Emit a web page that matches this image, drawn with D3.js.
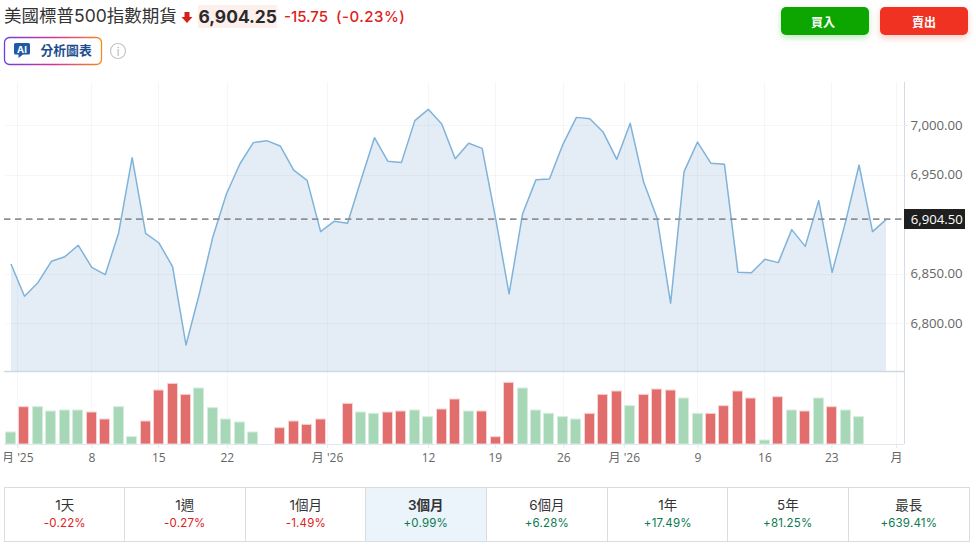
<!DOCTYPE html>
<html><head><meta charset="utf-8">
<script src="https://cdn.jsdelivr.net/npm/d3@7"></script>
<style>
html,body{margin:0;padding:0;background:#fff;overflow:hidden}
svg{display:block}
text{font-family:Inter,"Noto Sans CJK TC",sans-serif}
.ax text{font-family:"Open Sans","Noto Sans CJK TC",sans-serif;fill:#666}
</style></head><body>
<svg id="c" width="976" height="548"></svg>
<script>
const prices=[6859.6,6827,6840.7,6862.3,6867,6878.5,6856.2,6848.8,6891.2,6967,6890.6,6880.8,6856.9,6777.8,6830,6887.2,6930.3,6960.6,6982.2,6984.2,6978.8,6954.5,6944.1,6892.3,6902.7,6900.7,6944.4,6987.2,6963.3,6962,7004.4,7015.8,7001,6966,6981.5,6976.4,6905.7,6829.3,6910.1,6944.8,6945.5,6980.5,7007.7,7006.4,6992.6,6965.3,7001.7,6942.1,6905.7,6820,6952.9,6982.8,6961.3,6960.3,6851.2,6850.8,6864.3,6861,6894.3,6877.4,6923.6,6851.2,6902.4,6959.6,6892.3,6904.4];
const volumes=[36,112,112,99,102,102,96,75,112,22,69,162,182,149,168,109,75,66,36,0,49,69,59,75,0,122,96,92,96,99,102,82,105,135,99,99,22,185,168,102,92,82,75,92,149,159,115,149,165,162,138,92,92,115,159,138,12,142,102,99,138,112,102,82,0,0];
const volumeUp=[0,1,0,0,0,0,1,1,0,0,1,1,1,1,0,0,0,0,0,0,1,1,1,1,0,1,0,0,1,1,0,0,1,1,0,1,1,1,0,0,0,0,0,1,1,1,0,1,1,1,0,0,1,1,1,1,0,1,0,1,0,1,0,0,0,0];
const priceTicks=[6800,6850,6950,7000];
const tickIndex=[0.47,5.97,10.94,16.03,23.48,30.98,35.94,41.03,45.52,50.99,55.97,60.94,65.75];
const tickLabels=["月 '25","8","15","22","月 '26","12","19","26","月 '26","9","16","23","月"];
const lastQuote=6904.5;
const ranges=["1天","1週","1個月","3個月","6個月","1年","5年","最長"];
const rangeChanges=["-0.22%","-0.27%","-1.49%","+0.99%","+6.28%","+17.49%","+81.25%","+639.41%"];
const selectedRange="3個月";

const svg=d3.select("#c");
const defs=svg.append("defs");
const grad=defs.append("linearGradient").attr("id","aiBorder").attr("x1",0).attr("x2",1).attr("y1",0).attr("y2",0);
[["0","#6a3fe0"],["0.5","#d0359a"],["1","#f58a1f"]].forEach(s=>grad.append("stop").attr("offset",s[0]).attr("stop-color",s[1]));
const shG=defs.append("filter").attr("id","shG").attr("x","-20%").attr("y","-40%").attr("width","140%").attr("height","200%");
shG.append("feDropShadow").attr("dx",0).attr("dy",3).attr("stdDeviation",3).attr("flood-color","#0aa600").attr("flood-opacity",.25);
const shR=defs.append("filter").attr("id","shR").attr("x","-20%").attr("y","-40%").attr("width","140%").attr("height","200%");
shR.append("feDropShadow").attr("dx",0).attr("dy",3).attr("stdDeviation",3).attr("flood-color","#ef3322").attr("flood-opacity",.25);
defs.append("clipPath").attr("id","xclip").append("rect").attr("x",4).attr("y",0).attr("width",900).attr("height",30);

const x=d3.scaleLinear().domain([0,65]).range([11,886]);
const y=d3.scaleLinear().domain([6800,7000]).range([323,125]);
const v=d3.scaleLinear().domain([0,219]).range([444,371]);
const idx=d3.range(prices.length);

const g=svg.append("g");
g.append("path").attr("fill","#e4edf5")
 .attr("d",d3.area().x(i=>x(i)).y0(371).y1(i=>y(prices[i]))(idx));
const gridC="rgba(170,185,200,.13)";
g.selectAll(".gh").data(priceTicks).join("line").attr("x1",5).attr("x2",904)
 .attr("y1",d=>Math.round(y(d))+.5).attr("y2",d=>Math.round(y(d))+.5).attr("stroke",gridC);
g.selectAll(".gv").data(tickIndex).join("line").attr("y1",82).attr("y2",444)
 .attr("x1",d=>Math.round(x(d))+.5).attr("x2",d=>Math.round(x(d))+.5).attr("stroke",gridC);
g.append("path").attr("fill","none").attr("stroke","#7fb3da").attr("stroke-width",1.5)
 .attr("stroke-linejoin","round")
 .attr("d",d3.line().x(i=>x(i)).y(i=>y(prices[i]))(idx));

g.selectAll(".vb").data(idx.filter(i=>volumes[i]>0)).join("rect")
 .attr("x",i=>Math.round(x(i))-5.5).attr("width",10)
 .attr("y",i=>v(volumes[i])).attr("height",i=>444-v(volumes[i]))
 .attr("fill",i=>volumeUp[i]?"#e26d6d":"#a6d7b6")
 .attr("stroke",i=>volumeUp[i]?"#f6d4d4":"#d6eddd").attr("stroke-width",1);

g.append("line").attr("x1",4).attr("x2",904).attr("y1",371.5).attr("y2",371.5).attr("stroke","#cfd7e1").attr("stroke-width",1.5);
g.append("line").attr("x1",4).attr("x2",904).attr("y1",444.5).attr("y2",444.5).attr("stroke","#e3e7ee");

const ya=svg.append("g").attr("class","ax").attr("transform","translate(904.5,0)")
 .call(d3.axisRight(y).tickValues(priceTicks).tickFormat(d3.format(",.2f")).tickSize(4).tickPadding(2));
ya.select(".domain").attr("d","M0,82V444").attr("stroke","#d5dce8");
ya.selectAll(".tick line").attr("stroke","#eef0f3");
ya.selectAll("text").attr("font-size",13.2).attr("dy",".32em");
const xa=svg.append("g").attr("class","ax").attr("clip-path","url(#xclip)").attr("transform","translate(0,444)");
const xaInner=xa.append("g").call(d3.axisBottom(x).tickValues(tickIndex).tickFormat((d,i)=>tickLabels[i]).tickSize(4).tickPadding(5));
xaInner.select(".domain").remove();
xaInner.selectAll(".tick line").attr("stroke","#e3e7ee");
xaInner.selectAll("text").attr("font-size",12).attr("dy",".71em");

const ly=y(lastQuote);
svg.append("line").attr("x1",4).attr("x2",904).attr("y1",ly-.5).attr("y2",ly-.5)
 .attr("stroke","#8e9194").attr("stroke-width",1.7).attr("stroke-dasharray","6.5,4.5");
svg.append("rect").attr("x",904).attr("y",209).attr("width",61).attr("height",20).attr("fill","#1f1f1f");
svg.append("text").attr("x",910.7).attr("y",ly+4.5).attr("fill","#fff").attr("font-size",13.2)
 .style("font-family","'Open Sans',sans-serif").text(d3.format(",.2f")(lastQuote));

svg.append("text").attr("x",4).attr("y",22).attr("font-size",17.5).attr("fill","#333").text("美國標普500指數期貨");
svg.append("path").attr("d","M184.5,12H189.5V17H192.5L187,23L181.5,17H184.5Z").attr("fill","#d8201a");
svg.append("rect").attr("x",198).attr("y",5).attr("width",79).attr("height",23).attr("fill","#fdf0ec");
svg.append("text").attr("x",198.5).attr("y",23).attr("font-size",17.4).attr("font-weight",700).attr("fill","#2a2a2a").text("6,904.25");
svg.append("text").attr("x",284).attr("y",22).attr("font-size",15).attr("font-weight",500).attr("fill","#e0201b").text("-15.75");
svg.append("text").attr("x",336).attr("y",22).attr("font-size",15).attr("font-weight",500).attr("fill","#e0201b").attr("letter-spacing",.5).text("(-0.23%)");

svg.append("rect").attr("x",4.5).attr("y",37.5).attr("width",97).attr("height",27).attr("rx",5).attr("fill","#fff").attr("stroke","url(#aiBorder)").attr("stroke-width",1.3);
svg.append("path").attr("d","M15.5,43H28.5Q30,43 30,44.5V53Q30,54.5 28.5,54.5H23L18.5,58V54.5H15.5Q14,54.5 14,53V44.5Q14,43 15.5,43Z").attr("fill","#1d5aa8");
svg.append("text").attr("x",22).attr("y",53.2).attr("text-anchor","middle").attr("font-size",9.5).attr("font-weight",700).attr("fill","#fff").text("AI");
svg.append("text").attr("x",40.5).attr("y",55).attr("font-size",12.8).attr("font-weight",700).attr("fill","#1d4f8f").text("分析圖表");
svg.append("circle").attr("cx",118).attr("cy",51).attr("r",7.5).attr("fill","none").attr("stroke","#c6c6c6").attr("stroke-width",1.2);
svg.append("text").attr("x",118).attr("y",55.5).attr("text-anchor","middle").attr("font-size",11).attr("fill","#b5b5b5").text("i");

svg.append("rect").attr("x",781).attr("y",7).attr("width",88).attr("height",28).attr("rx",5).attr("fill","#0aa600").attr("filter","url(#shG)");
svg.append("text").attr("x",823).attr("y",27).attr("text-anchor","middle").attr("font-size",12).attr("font-weight",700).attr("fill","#fff").text("買入");
svg.append("rect").attr("x",880).attr("y",7).attr("width",88).attr("height",28).attr("rx",5).attr("fill","#ef3322").attr("filter","url(#shR)");
svg.append("text").attr("x",924).attr("y",27).attr("text-anchor","middle").attr("font-size",12).attr("font-weight",700).attr("fill","#fff").text("賣出");

const rx=d3.scaleBand().domain(ranges).range([4,969]);
const cell=svg.append("g").selectAll("g").data(ranges).join("g").attr("transform",d=>`translate(${Math.floor(rx(d))+.5},0)`);
cell.append("rect").attr("y",487.5).attr("height",54).attr("width",d=>Math.floor(rx(d)+rx.bandwidth())-Math.floor(rx(d)))
 .attr("fill",d=>d===selectedRange?"#ebf3fb":"#fff").attr("stroke","#dcdcdc").attr("stroke-width",1);
cell.append("text").attr("x",rx.bandwidth()/2).attr("y",510).attr("text-anchor","middle").attr("font-size",13.5)
 .attr("font-weight",d=>d===selectedRange?600:400).attr("fill","#333").text(d=>d);
cell.append("text").attr("x",rx.bandwidth()/2).attr("y",527).attr("text-anchor","middle").attr("font-size",11.5).attr("letter-spacing",.2)
 .attr("fill",(d,i)=>rangeChanges[i][0]==="-"?"#e0201b":"#0a7a50").text((d,i)=>rangeChanges[i]);
</script>
</body></html>
